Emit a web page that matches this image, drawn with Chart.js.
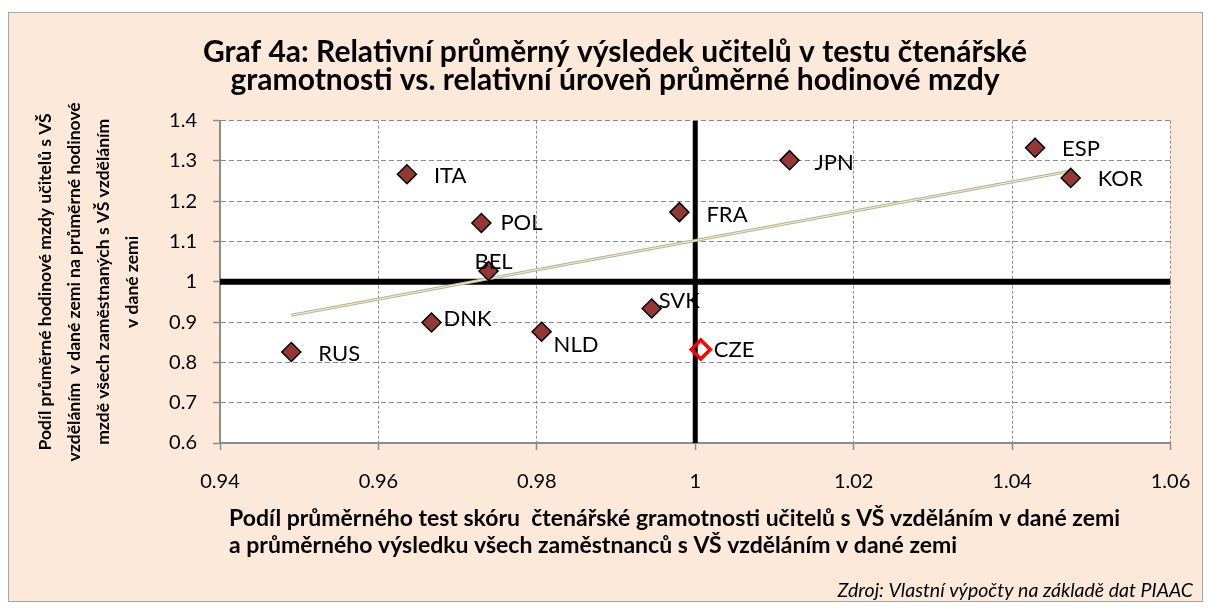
<!DOCTYPE html>
<html lang="cs">
<head>
<meta charset="UTF-8">
<title>Graf 4a</title>
<script src="https://cdn.jsdelivr.net/npm/chart.js"></script>
<style>
  body { margin: 0; background: #fff; }
  #box { position: absolute; left: 8px; top: 12px; width: 1193px; height: 588px;
         border: 1px solid #a6a6a6; background: #fde9d9; }
</style>
</head>
<body>
<div id="box"><canvas id="chart" width="1193" height="588"></canvas></div>
<script>
// values
const countries = ['RUS', 'ITA', 'DNK', 'POL', 'BEL', 'NLD', 'SVK', 'FRA', 'CZE', 'JPN', 'ESP', 'KOR'];
const readingRatio = [0.949, 0.9636, 0.9667, 0.9730, 0.9739, 0.9806, 0.9945, 0.9980, 1.0007, 1.0119, 1.0429, 1.0474];
const wageRatio = [0.826, 1.267, 0.899, 1.146, 1.027, 0.876, 0.934, 1.173, 0.832, 1.302, 1.333, 1.258];
const trendX = [0.949, 1.0474];
const trendY = [0.917, 1.275];
const xTicks = [0.94, 0.96, 0.98, 1, 1.02, 1.04, 1.06];
const xTickLabels = ['0.94', '0.96', '0.98', '1', '1.02', '1.04', '1.06'];
const yTicks = [0.6, 0.7, 0.8, 0.9, 1, 1.1, 1.2, 1.3, 1.4];
const yTickLabels = ['0.6', '0.7', '0.8', '0.9', '1', '1.1', '1.2', '1.3', '1.4'];
const refX = 1;
const refY = 1;
const highlight = 'CZE';

const titleLines = ['Graf 4a: Relativní průměrný výsledek učitelů v testu čtenářské',
                    'gramotnosti vs. relativní úroveň průměrné hodinové mzdy'];
const xTitleLines = ['Podíl průměrného test skóru  čtenářské gramotnosti učitelů s VŠ vzděláním v dané zemi',
                     'a průměrného výsledku všech zaměstnanců s VŠ vzděláním v dané zemi'];
const yTitleLines = ['Podíl průměrné hodinové mzdy učitelů s VŠ',
                     'vzděláním  v dané zemi na průměrné hodinové',
                     'mzdě všech zaměstnaných s VŠ vzděláním',
                     'v dané zemi'];
const sourceText = 'Zdroj: Vlastní výpočty na základě dat PIAAC';

const xMin = xTicks[0], xMax = xTicks[xTicks.length - 1];
const yMin = yTicks[0], yMax = yTicks[yTicks.length - 1];

// label placement next to each marker (dx, dy in px, align)
const labelPos = {
  RUS: [27, 2], ITA: [27, 2], DNK: [12, -4], POL: [19, 0], BEL: [5, -9, 'center'],
  NLD: [12, 13], SVK: [7, -8], FRA: [27, 3], CZE: [13, 0], JPN: [25, 3],
  ESP: [27, 1], KOR: [27, 1]
};

const points = countries.map((c, i) => ({ x: readingRatio[i], y: wageRatio[i] }));

// white plot area
const plotBg = {
  id: 'plotBg',
  beforeDraw(chart) {
    const { ctx, chartArea: a } = chart;
    ctx.save();
    ctx.fillStyle = '#ffffff';
    ctx.fillRect(a.left, a.top, a.right - a.left, a.bottom - a.top);
    ctx.restore();
  }
};

// country labels next to markers
const pointLabels = {
  id: 'pointLabels',
  afterDatasetsDraw(chart) {
    const { ctx } = chart;
    const meta = chart.getDatasetMeta(0);
    ctx.save();
    ctx.font = '22px Lato';
    ctx.fillStyle = '#000';
    ctx.textBaseline = 'middle';
    meta.data.forEach((el, i) => {
      const p = labelPos[countries[i]] || [14, 0];
      ctx.textAlign = p[2] || 'left';
      ctx.fillText(countries[i], el.x + p[0], el.y + p[1]);
    });
    ctx.restore();
  }
};

// title, x-axis title and source note
const texts = {
  id: 'texts',
  afterDraw(chart) {
    const { ctx } = chart;
    ctx.save();
    ctx.fillStyle = '#000';
    ctx.textBaseline = 'alphabetic';
    ctx.textAlign = 'center';
    ctx.font = 'bold 30px Lato';
    titleLines.forEach((t, i) => ctx.fillText(t, 606, 49 + i * 28));
    ctx.textAlign = 'left';
    ctx.font = 'bold 23px Lato';
    xTitleLines.forEach((t, i) => ctx.fillText(t, 220, 513 + i * 27));
    ctx.textAlign = 'right';
    ctx.font = 'italic 19.5px Lato';
    ctx.fillText(sourceText, 1184, 584);
    ctx.restore();
  }
};

const gridGray = '#8c8c8c';

new Chart(document.getElementById('chart').getContext('2d'), {
  type: 'scatter',
  data: {
    datasets: [{
      label: 'Země',
      data: points,
      pointStyle: 'rectRot',
      pointRadius: 9.5,
      pointHoverRadius: 9.5,
      pointBackgroundColor: countries.map(c => c === highlight ? 'rgba(0,0,0,0)' : '#953735'),
      pointBorderColor: countries.map(c => c === highlight ? '#ff0000' : '#000000'),
      pointBorderWidth: countries.map(c => c === highlight ? 3.5 : 1.5),
      order: 0
    }, {
      label: 'Trend inner',
      data: trendX.map((x, i) => ({ x: x, y: trendY[i] })),
      showLine: true,
      borderColor: '#f2f0e4',
      borderWidth: 1,
      pointRadius: 0,
      order: 1
    }, {
      label: 'Trend',
      data: trendX.map((x, i) => ({ x: x, y: trendY[i] })),
      showLine: true,
      borderColor: '#b9b28f',
      borderWidth: 3,
      pointRadius: 0,
      order: 2
    }, {
      label: 'x = 1',
      data: [{ x: refX, y: yMin }, { x: refX, y: yMax }],
      showLine: true,
      borderColor: '#000',
      borderWidth: 5,
      pointRadius: 0,
      order: 3
    }, {
      label: 'y = 1',
      data: [{ x: xMin, y: refY }, { x: xMax, y: refY }],
      showLine: true,
      borderColor: '#000',
      borderWidth: 6,
      pointRadius: 0,
      order: 3
    }]
  },
  options: {
    responsive: false,
    animation: false,
    layout: { padding: { top: 107.7, right: 31.5, bottom: 98, left: 0 } },
    plugins: {
      legend: { display: false },
      tooltip: { enabled: false }
    },
    scales: {
      x: {
        type: 'linear',
        min: xMin,
        max: xMax,
        afterBuildTicks: s => { s.ticks = xTicks.map(v => ({ value: v })); },
        afterFit: s => { s.height = 60; s.paddingLeft = 0; s.paddingRight = 0; },
        ticks: {
          callback: (v, i) => xTickLabels[i],
          font: { family: 'Lato', size: 20 },
          color: '#000',
          padding: 20,
          maxRotation: 0
        },
        grid: { color: gridGray, lineWidth: 1, tickLength: 7, tickColor: gridGray, tickWidth: 1.5 },
        border: { color: gridGray, width: 2, dash: [3, 2] }
      },
      y: {
        type: 'linear',
        min: yMin,
        max: yMax,
        afterBuildTicks: s => { s.ticks = yTicks.map(v => ({ value: v })); },
        afterFit: s => { s.width = 211; s.paddingTop = 0; s.paddingBottom = 0; },
        ticks: {
          callback: (v, i) => yTickLabels[i],
          font: { family: 'Lato', size: 20 },
          color: '#000',
          padding: 16
        },
        grid: { color: gridGray, lineWidth: 1, tickLength: 7, tickColor: gridGray, tickWidth: 1.5 },
        border: { color: gridGray, width: 2, dash: [5, 3] },
        title: {
          display: true,
          text: yTitleLines,
          color: '#000',
          font: { family: 'Lato', size: 17.5, weight: 'bold', lineHeight: '29px' },
          padding: { top: 22 }
        }
      }
    }
  },
  plugins: [plotBg, pointLabels, texts]
});
</script>
</body>
</html>
